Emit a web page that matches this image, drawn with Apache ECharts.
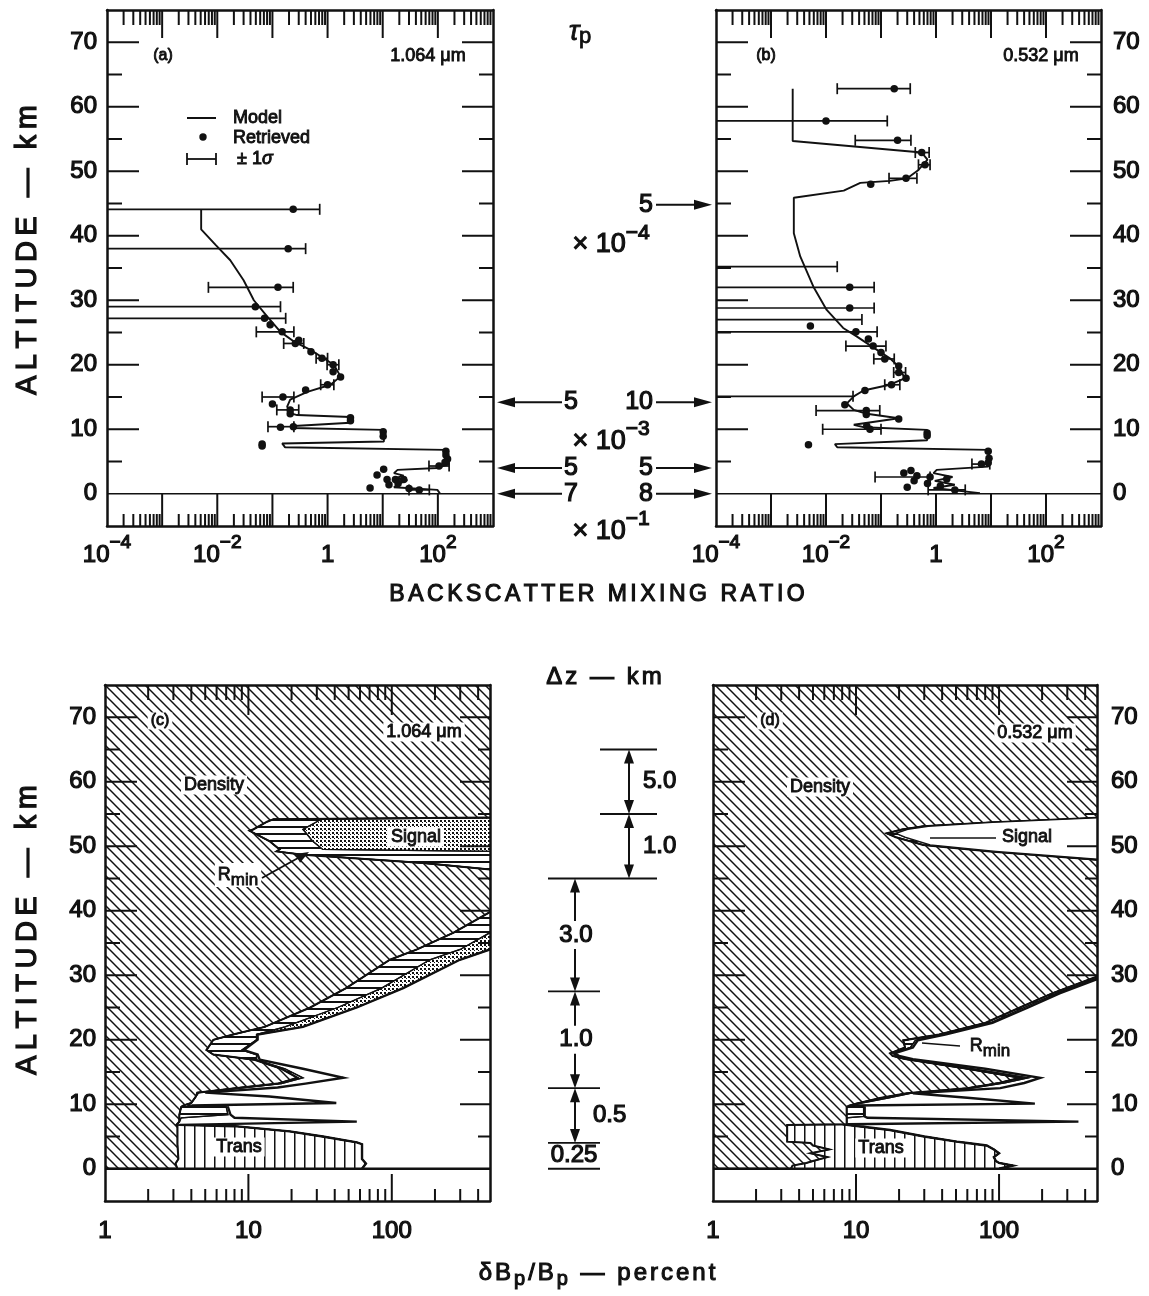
<!DOCTYPE html>
<html>
<head>
<meta charset="utf-8">
<title>Backscatter mixing ratio and error budget</title>
<script src="https://cdn.jsdelivr.net/npm/echarts@6.0.0/dist/echarts.min.js"></script>
<style>
  html, body { margin: 0; padding: 0; background: #fff; }
  #chart { width: 1149px; height: 1296px; }
</style>
</head>
<body>
<div id="chart"></div>
<script>
// ---------- (a) 1.064 um : model profile, retrieved values, +/-1 sigma bars ----------
const modelA = [
  [0.0051, 44.1], [0.0051, 41.0], [0.0095, 38.5], [0.0172, 36.2], [0.030, 33.1],
  [0.046, 30.0], [0.080, 27.5], [0.14, 25.1], [0.245, 23.6], [0.49, 22.3],
  [0.85, 21.0], [1.30, 20.0], [1.72, 18.2], [1.13, 16.9], [0.43, 15.8],
  [0.21, 14.6], [0.185, 13.5], [0.21, 12.5], [0.28, 12.2], [2.6, 11.9],
  [2.6, 11.0], [0.245, 10.5], [0.22, 10.2], [10.5, 9.9], [10.5, 8.1],
  [0.15, 7.8], [0.17, 7.2], [135, 6.8], [150, 6.0], [130, 5.2], [160, 4.6],
  [98, 4.0], [18.6, 3.7], [16, 3.2], [24, 2.8], [17, 2.4], [28, 2.1],
  [19, 1.5], [16, 1.0], [98, 0.6], [110, 0.0]
];
const retrievedA = [
  [0.238, 44.1], [0.193, 38.0], [0.126, 32.0], [0.049, 29.0], [0.072, 27.2], [0.091, 26.2],
  [0.15, 25.1], [0.26, 23.3], [0.30, 23.8], [0.50, 22.0], [0.79, 21.0], [1.26, 20.0],
  [1.26, 18.9], [1.72, 18.1], [1.0, 16.9], [0.40, 16.1], [0.155, 15.0], [0.10, 13.9],
  [0.21, 13.0], [0.21, 12.4], [2.6, 11.8], [2.6, 11.3], [0.14, 10.3], [0.24, 10.4],
  [10.2, 9.6], [10.2, 8.9], [0.065, 7.7], [0.065, 7.4], [140, 6.6], [140, 6.0],
  [150, 5.4], [135, 4.9], [105, 4.3], [10.4, 3.8], [7.9, 2.9], [12, 2.2], [17, 2.2],
  [24, 2.2], [13, 1.4], [19, 1.6], [5.9, 0.9], [46, 0.6], [30, 0.8]
];
// [altitude, low, high]; low = null when the bar runs off the left end of the axis
const errorA = [
  [44.1, null, 0.72], [38.0, null, 0.40], [32.0, 0.0069, 0.238], [29.0, null, 0.14],
  [27.2, null, 0.174], [25.1, 0.051, 0.245], [23.3, 0.16, 0.37], [21.0, 0.62, 1.0],
  [20.0, 0.98, 1.6], [16.9, 0.75, 1.3], [15.0, 0.065, 0.245], [13.0, 0.12, 0.30],
  [10.4, 0.083, 0.245], [4.3, 69, 160], [0.6, 30, 70]
];

// ---------- (b) 0.532 um ----------
const modelB = [
  [0.00248, 62.8], [0.00248, 54.7], [0.55, 52.9], [0.70, 51.8], [0.48, 50.2], [0.30, 48.9],
  [0.145, 48.5], [0.042, 48.2], [0.021, 47.0], [0.0026, 45.9], [0.0026, 40.4], [0.0034, 36.8],
  [0.0059, 32.1], [0.0103, 28.5], [0.0205, 25.7], [0.036, 24.4], [0.072, 22.7], [0.145, 21.0],
  [0.21, 19.7], [0.27, 17.9], [0.145, 16.9], [0.048, 16.0], [0.032, 15.1], [0.024, 14.0],
  [0.032, 13.0], [0.055, 12.4], [0.21, 11.7], [0.032, 10.7], [0.05, 10.3], [0.69, 9.9],
  [0.69, 8.3], [0.0145, 7.7], [0.016, 7.2], [8.9, 6.8], [9.5, 5.5], [8.9, 4.2], [1.03, 3.7],
  [0.9, 3.2], [2.0, 2.6], [0.95, 2.0], [2.2, 1.4], [0.9, 0.9], [6.3, 0.1]
];
const retrievedB = [
  [0.174, 62.8], [0.010, 57.8], [0.20, 54.8], [0.55, 52.9], [0.63, 51.0], [0.285, 48.9],
  [0.065, 48.0], [0.027, 32.0], [0.027, 28.8], [0.0052, 26.0], [0.035, 25.1], [0.059, 24.0],
  [0.072, 22.9], [0.10, 21.9], [0.117, 20.9], [0.21, 19.8], [0.21, 18.8], [0.285, 17.9],
  [0.155, 16.9], [0.051, 16.0], [0.022, 13.8], [0.054, 12.9], [0.054, 12.3], [0.21, 11.6],
  [0.063, 10.0], [0.055, 10.5], [0.69, 9.4], [0.69, 9.0], [0.0048, 7.6], [8.9, 6.6],
  [9.2, 5.5], [8.9, 4.8], [6.7, 4.6], [0.26, 3.2], [0.35, 3.6], [0.45, 2.8], [0.40, 2.0],
  [0.30, 1.0], [0.78, 2.6], [0.70, 1.6], [1.57, 2.3], [2.2, 0.6], [1.2, 1.2]
];
const errorB = [
  [62.8, 0.016, 0.34], [57.8, null, 0.13], [54.8, 0.034, 0.35], [52.9, 0.42, 0.75],
  [51.0, 0.48, 0.78], [48.9, 0.14, 0.45], [35.2, null, 0.016], [32.0, null, 0.075],
  [28.8, null, 0.075], [27.0, null, 0.045], [25.1, null, 0.085], [22.9, 0.023, 0.123],
  [20.9, 0.074, 0.174], [18.8, 0.17, 0.28], [16.9, 0.117, 0.22], [15.1, null, 0.031],
  [12.9, 0.0066, 0.095], [10.0, 0.0087, 0.1], [4.6, 4.5, 9.5], [2.6, 0.078, 0.78], [0.6, 0.72, 3.4]
];

// ---------- (c) error budget 1.064 um: cumulative boundaries (percent) by altitude ----------
const altC = [0, 0.8, 1.5, 3.8, 4.1, 5.0, 5.8, 6.6, 6.8, 7.3, 7.9, 8.4, 9.6, 9.8, 10.2, 11.2, 11.8,
  12.6, 13.2, 14.1, 15.5, 16.9, 17.7, 18.4, 20.0, 20.8, 22, 25, 28, 32.4, 34, 36.6, 39.8, 40.5,
  46.2, 46.4, 47.4, 48.7, 49.2, 49.5, 50.8, 52.4, 52.6, 53.8, 54.2, 54.6, 75];
const densC = [3.2, 3.1, 3.25, 3.2, 3.2, 3.2, 3.2, 3.2, 3.15, 3.3, 3.3, 3.3, 3.4, 3.5, 4.0, 4.3, 4.4,
  9, 16, 22, 17, 11, 5.7, 5.1, 5.7, 7.8, 13, 27, 48, 97, 150, 270, 484, 5000,
  5000, 484, 165, 24, 15.7, 16.5, 14, 10.2, 10.8, 13.5, 15, 5000, 5000];
const transC = [62, 66, 62, 62, 57, 33, 19.4, 8, 3.15, 3.3, 3.3, 3.3, 3.4, 3.5, 4.0, 4.3, 4.4,
  9, 16, 22, 17, 11, 5.7, 5.1, 5.7, 7.8, 13, 27, 48, 97, 150, 270, 484, 5000,
  5000, 484, 165, 24, 15.7, 16.5, 14, 10.2, 10.8, 13.5, 15, 5000, 5000];
const rminC = [62, 66, 62, 62, 57, 33, 19.4, 8, 3.15, 3.3, 3.4, 7.2, 7.0, 3.8, 4.0, 4.3, 4.5,
  9.5, 17, 24, 18, 11.4, 11.4, 9, 11.4, 11.4, 18, 42, 85, 184, 300, 484, 900, 5000,
  5000, 5000, 5000, 5000, 484, 33, 28, 24.5, 24, 30, 32, 5000, 5000];
const signalC = [62, 66, 62, 62, 57, 33, 19.4, 8, 3.15, 3.3, 3.4, 7.2, 7.0, 3.8, 4.0, 4.3, 4.5,
  9.5, 17, 24, 18, 11.4, 11.4, 9, 11.4, 11.6, 24, 57, 120, 298, 484, 900, 2000, 5000,
  5000, 5000, 5000, 5000, 5000, 5000, 5000, 5000, 5000, 5000, 5000, 5000, 5000];
const totalC = [62, 66, 62, 62, 57, 33, 19.4, 8, 3.3, 57, 8, 7.5, 7.2, 4.0, 41, 14, 5.0,
  16, 25, 46, 24, 12, 11.6, 9.3, 11.6, 11.6, 24, 57, 120, 298, 484, 900, 2000, 5000,
  5000, 5000, 5000, 5000, 5000, 5000, 5000, 5000, 5000, 5000, 5000, 5000, 5000];

// ---------- (d) error budget 0.532 um ----------
const altD = [0, 0.5, 0.9, 1.2, 1.8, 2.4, 3.0, 3.6, 4.0, 4.2, 5.0, 6.0, 6.7, 6.8, 6.9, 7.3, 7.9,
  8.1, 9.6, 9.8, 10.1, 11.0, 11.7, 12.5, 13.3, 14.1, 15.5, 17.0, 17.5, 17.9, 18.8, 19.9, 20.8,
  22.6, 25, 27.2, 29.8, 30.5, 47.7, 47.9, 49.2, 50.2, 51.4, 52.0, 52.6, 53.1, 53.7, 54.4, 54.6, 75];
const densD = [3.5, 3.6, 4.5, 5, 6.3, 4.8, 6.5, 5, 4.8, 3.3, 3.3, 3.3, 3.3, 3.3, 8.6, 8.6, 8.6,
  8.6, 8.6, 9, 10, 15, 22.6, 60, 100, 140, 60, 22, 18, 17.3, 22, 21.4, 38,
  80, 140, 235, 484, 5000, 5000, 484, 86.5, 29.5, 19, 16.4, 21, 29.6, 86.5, 484, 5000, 5000];
const transD = [100, 125, 100, 95, 92, 100, 92, 82, 60, 50.6, 30, 17.3, 9.5, 8.6, 8.6, 8.6, 8.6,
  8.6, 8.6, 9, 10, 15, 22.6, 60, 100, 140, 60, 22, 18, 17.3, 22, 21.4, 38,
  80, 140, 235, 484, 5000, 5000, 484, 86.5, 29.5, 19, 16.4, 21, 29.6, 86.5, 484, 5000, 5000];
const rminD = [100, 125, 100, 95, 92, 100, 92, 82, 60, 50.6, 30, 17.3, 9.5, 8.6, 8.6, 8.6, 8.6,
  11.3, 11.3, 9.5, 10.5, 17, 24, 65, 110, 160, 66, 23, 19, 18.2, 24, 26, 40.8,
  86.5, 150, 252, 520, 5000, 5000, 560, 95, 33, 22, 19, 23, 32, 90, 500, 5000, 5000];
const signalD = [100, 125, 100, 95, 92, 100, 92, 82, 60, 50.6, 30, 17.3, 9.5, 8.6, 8.6, 8.6, 8.6,
  11.3, 11.3, 9.5, 10.5, 17, 24, 65, 110, 160, 66, 23, 19, 18.2, 24, 26, 40.8,
  86.5, 150, 252, 520, 5000, 5000, 5000, 5000, 5000, 5000, 5000, 5000, 5000, 5000, 5000, 5000, 5000];
const totalD = [100, 125, 100, 95, 92, 100, 92, 82, 60, 50.6, 30, 17.3, 9.5, 8.6, 8.8, 359, 12,
  11.5, 11.5, 9.8, 178, 60, 25, 102, 150, 194, 80, 25, 20, 18.5, 25, 27, 42,
  90, 160, 265, 540, 5000, 5000, 5000, 5000, 5000, 5000, 5000, 5000, 5000, 5000, 5000, 5000, 5000];

// ---------- optical depth tau_p marks and vertical resolution dz ----------
const tauLeft = [[14.2, '5'], [4.0, '5'], [0, '7']];
const tauRight = [[44.8, '5'], [14.2, '10'], [4.0, '5'], [0, '8']];
const tauScale = [[39.3, '−4'], [8.8, '−3'], [-5.1, '−1']];
const dzBounds = [65, 55, 45, 27.5, 12.5, 4, 0];
const dzSteps = ['5.0', '1.0', '3.0', '1.0', '0.5', '0.25'];

// ---------- styling ----------
const FONT = "'Liberation Sans', Arial, Helvetica, sans-serif";
const INK = '#111';

function tile(w, h, draw) {
  const c = document.createElement('canvas');
  c.width = w; c.height = h;
  const g = c.getContext('2d');
  g.fillStyle = INK; g.strokeStyle = INK;
  draw(g, w, h);
  return { image: c, repeat: 'repeat' };
}
const hatchDiag = tile(10, 10, (g, s) => {
  g.lineWidth = 1.5;
  for (let k = -1; k <= 1; k++) {
    g.beginPath(); g.moveTo(-s, -s + k * s); g.lineTo(2 * s, 2 * s + k * s); g.stroke();
  }
});
const hatchVert = tile(10, 4, g => g.fillRect(4, 0, 1.5, 4));
const hatchHoriz = tile(4, 7, g => g.fillRect(0, 0, 4, 2));
const stipple = tile(4, 4, g => { g.fillRect(0, 0, 2, 2); g.fillRect(2, 2, 1, 1); });

const numBase = { fontSize: 24, fontFamily: FONT, fill: INK, stroke: INK, lineWidth: 1.2 };
const supRich = {
  b: Object.assign({}, numBase, { lineHeight: 34, verticalAlign: 'bottom' }),
  s: Object.assign({}, numBase, { fontSize: 19, lineHeight: 22, verticalAlign: 'top' })
};

const tickTop = { lMaj: 32, lMin: 15, rMaj: 31, rMin: 14, tMaj: 28, tMin: 15, bMaj: null, bMin: 12 };
const tickBot = { lMaj: 32, lMin: 15, rMaj: 30, rMin: 12, tMaj: 30, tMin: 15, bMaj: 27, bMin: 12 };
const powLabel = v => {
  const e = Math.round(Math.log10(v));
  return e === 0 ? '{b|1}' : '{b|10}{s|' + (e < 0 ? '−' : '') + Math.abs(e) + '}';
};
const plainLabel = v => '{b|' + Math.round(v) + '}';

const panels = [
  { grid: { left: 107, top: 10, width: 386, height: 516 }, xMin: 1e-4, xMax: 1e3, side: 'left', gap: 10,
    tick: tickTop, zeroWidth: 1.5, xLabels: [1e-4, 1e-2, 1, 1e2], fmt: powLabel, labelDy: 24 },
  { grid: { left: 716, top: 10, width: 385, height: 516 }, xMin: 1e-4, xMax: 1e3, side: 'right', gap: 12,
    tick: tickTop, zeroWidth: 1.5, xLabels: [1e-4, 1e-2, 1, 1e2], fmt: powLabel, labelDy: 24 },
  { grid: { left: 105, top: 685, width: 385, height: 516 }, xMin: 1, xMax: 484, side: 'left', gap: 9,
    tick: tickBot, zeroWidth: 2.5, xLabels: [1, 10, 100], fmt: plainLabel, labelDy: 25 },
  { grid: { left: 713, top: 685, width: 384, height: 516 }, xMin: 1, xMax: 484, side: 'right', gap: 14,
    tick: tickBot, zeroWidth: 2.5, xLabels: [1, 10, 100], fmt: plainLabel, labelDy: 25 }
];

// ticks, zero-altitude line and tick labels, generated from each panel's axis ranges
function buildDeco(p) {
  const t = p.tick, items = [];
  const eLo = Math.floor(Math.log10(p.xMin)), eHi = Math.ceil(Math.log10(p.xMax));
  for (let e = eLo; e < eHi; e++) {
    for (let m = 1; m <= 9; m++) {
      const v = m * Math.pow(10, e);
      if (v <= p.xMin * 1.001 || v >= p.xMax * 0.999) continue;
      items.push({ x: v, y: -5, k: 'B', len: m === 1 ? t.bMaj : t.bMin });
      items.push({ x: v, y: 75, k: 'T', len: m === 1 ? t.tMaj : t.tMin });
    }
  }
  for (let z = 5; z <= 70; z += 5) {
    const maj = z % 10 === 0;
    items.push({ x: p.xMin, y: z, k: 'L', len: maj ? t.lMaj : t.lMin });
    items.push({ x: p.xMax, y: z, k: 'R', len: maj ? t.rMaj : t.rMin });
  }
  items.push({ x: p.xMin, y: 0, k: 'Z' });
  for (let z = 0; z <= 70; z += 10) {
    items.push({ x: p.side === 'left' ? p.xMin : p.xMax, y: z, k: p.side === 'left' ? 'YL' : 'YR', text: String(z) });
  }
  p.xLabels.forEach(v => items.push({ x: v, y: -5, k: 'XB', text: p.fmt(v) }));
  return items;
}

function decoRender(items, p) {
  return function (params, api) {
    const it = items[params.dataIndex];
    const c = api.coord([it.x, it.y]);
    const st = { stroke: INK, lineWidth: 2 };
    const seg = (x1, y1, x2, y2, s) => ({ type: 'line', shape: { x1, y1, x2, y2 }, style: s || st });
    const num = align => Object.assign({ text: it.text, align, verticalAlign: 'middle' }, numBase);
    switch (it.k) {
      case 'L': return seg(c[0], c[1], c[0] + it.len, c[1]);
      case 'R': return seg(c[0], c[1], c[0] - it.len, c[1]);
      case 'T': return seg(c[0], c[1], c[0], c[1] + it.len);
      case 'B': {
        const end = it.len == null ? api.coord([it.x, 0])[1] : c[1] - it.len;
        return seg(c[0], c[1], c[0], end);
      }
      case 'Z': {
        const e = api.coord([p.xMax, 0]);
        return seg(c[0], c[1], e[0], e[1], { stroke: INK, lineWidth: p.zeroWidth });
      }
      case 'YL': return { type: 'text', x: c[0] - p.gap, y: c[1], style: num('right') };
      case 'YR': return { type: 'text', x: c[0] + p.gap, y: c[1], style: num('left') };
      case 'XB': return { type: 'text', x: c[0], y: c[1] + p.labelDy,
        style: { text: it.text, rich: supRich, align: 'center', verticalAlign: 'middle' } };
    }
    return null;
  };
}

function errRender(bars, xMin) {
  return function (params, api) {
    const b = bars[params.dataIndex];
    const open = b[1] == null;
    const p1 = api.coord([open ? xMin : b[1], b[0]]);
    const p2 = api.coord([b[2], b[0]]);
    const st = { stroke: INK, lineWidth: 1.7 };
    const kids = [
      { type: 'line', shape: { x1: p1[0], y1: p1[1], x2: p2[0], y2: p2[1] }, style: st },
      { type: 'line', shape: { x1: p2[0], y1: p2[1] - 5.5, x2: p2[0], y2: p2[1] + 5.5 }, style: st }
    ];
    if (!open) kids.push({ type: 'line', shape: { x1: p1[0], y1: p1[1] - 5.5, x2: p1[0], y2: p1[1] + 5.5 }, style: st });
    return { type: 'group', children: kids };
  };
}

// stacked error-source regions: density | transmission | R_min | signal, then the total outline
function regionRender(alt, cols, fills, xMin) {
  return function (params, api) {
    const k = params.dataIndex;
    if (k < 4) {
      const lo = k === 0 ? null : cols[k - 1], hi = cols[k];
      const pts = [];
      for (let i = 0; i < alt.length; i++) pts.push(api.coord([lo ? lo[i] : xMin, alt[i]]));
      for (let i = alt.length - 1; i >= 0; i--) pts.push(api.coord([hi[i], alt[i]]));
      return { type: 'polygon', shape: { points: pts },
        style: { fill: fills[k], stroke: INK, lineWidth: k === 0 ? 2 : 1.3 } };
    }
    const pts = alt.map((z, i) => api.coord([cols[4][i], z]));
    return { type: 'polyline', shape: { points: pts }, style: { fill: null, stroke: INK, lineWidth: 2.4 } };
  };
}

const frameLine = { show: true, onZero: false, lineStyle: { color: INK, width: 2.5 } };
const option = { animation: false, backgroundColor: '#fff', grid: [], xAxis: [], yAxis: [], series: [] };

panels.forEach((p, g) => {
  option.grid.push(Object.assign({ show: false, containLabel: false, outerBoundsMode: 'none' }, p.grid));
  const ax = { gridIndex: g, type: 'log', logBase: 10, min: p.xMin, max: p.xMax, axisLine: frameLine,
    axisTick: { show: false }, axisLabel: { show: false }, splitLine: { show: false }, z: 10, silent: true };
  option.xAxis.push(Object.assign({ position: 'bottom' }, ax), Object.assign({ position: 'top' }, ax));
  const ay = { gridIndex: g, type: 'value', min: -5, max: 75, axisLine: frameLine,
    axisTick: { show: false }, axisLabel: { show: false }, splitLine: { show: false }, z: 10, silent: true };
  option.yAxis.push(Object.assign({ position: 'left' }, ay), Object.assign({ position: 'right' }, ay));
  const items = buildDeco(p);
  option.series.push({ type: 'custom', xAxisIndex: 2 * g, yAxisIndex: 2 * g, silent: true, clip: false, z: 6,
    data: items.map(it => [it.x, it.y]), renderItem: decoRender(items, p) });
});

[[modelA, retrievedA, errorA, 0], [modelB, retrievedB, errorB, 1]].forEach(([model, pts, bars, g]) => {
  const idx = 2 * g;
  option.series.push(
    { type: 'line', xAxisIndex: idx, yAxisIndex: idx, data: model, symbol: 'none', showSymbol: false,
      lineStyle: { color: INK, width: 1.9 }, clip: true, silent: true, z: 3 },
    { type: 'custom', xAxisIndex: idx, yAxisIndex: idx, data: bars.map(b => [b[2], b[0]]),
      renderItem: errRender(bars, panels[g].xMin), clip: true, silent: true, z: 3 },
    { type: 'scatter', xAxisIndex: idx, yAxisIndex: idx, data: pts, symbolSize: 7.5,
      itemStyle: { color: INK, opacity: 1 }, silent: true, z: 4 }
  );
});

[[altC, [densC, transC, rminC, signalC, totalC], stipple, 2],
 [altD, [densD, transD, rminD, signalD, totalD], '#fff', 3]].forEach(([alt, cols, sigFill, g]) => {
  option.series.push({ type: 'custom', xAxisIndex: 2 * g, yAxisIndex: 2 * g, silent: true, clip: true, z: 1,
    data: [0, 1, 2, 3, 4].map(() => [panels[g].xMin, 0]),
    renderItem: regionRender(alt, cols, [hatchDiag, hatchVert, hatchHoriz, sigFill], panels[g].xMin) });
});

const chart = echarts.init(document.getElementById('chart'), null, { renderer: 'canvas' });
chart.setOption(option);

// ---------- annotations ----------
const heavy = { stroke: INK, lineWidth: 0.9 };
const mctx = document.createElement('canvas').getContext('2d');
function textWidth(t, size, italic) {
  mctx.font = (italic ? 'italic ' : '') + size + 'px ' + FONT;
  return mctx.measureText(t).width;
}
function T(x, y, text, size, extra) {
  return { type: 'text', x, y, z: 100, silent: true,
    style: Object.assign({ text, fill: INK, fontSize: size, fontFamily: FONT, align: 'center', verticalAlign: 'middle' }, extra || {}) };
}
// a run of text pieces laid out by measured width: letter spacing, sub/superscript offsets, rotation
function run(list, cx, cy, opts) {
  const gap = opts.gap || 0;
  const units = [];
  list.forEach(pc => {
    const parts = gap ? Array.from(pc.t) : [pc.t];
    parts.forEach(ch => units.push(Object.assign({}, pc, { t: ch, w: textWidth(ch, pc.size, pc.italic) })));
  });
  const total = units.reduce((s, u) => s + u.w, 0) + gap * (units.length - 1);
  let off = opts.align === 'left' ? 0 : -total / 2;
  const out = [];
  if (opts.box) {
    out.push({ type: 'rect', z: 99, silent: true,
      shape: { x: cx + off - 3, y: cy - opts.box / 2, width: total + 6, height: opts.box }, style: { fill: '#fff' } });
  }
  units.forEach(u => {
    const dy = u.dy || 0;
    const x = opts.rotate ? cx + dy : cx + off;
    const y = opts.rotate ? cy - off : cy + dy;
    out.push({ type: 'text', x, y, rotation: opts.rotate ? Math.PI / 2 : 0, z: 100, silent: true,
      style: { text: u.t, fontSize: u.size, fontFamily: FONT, fontStyle: u.italic ? 'italic' : 'normal',
        fill: INK, stroke: INK, lineWidth: opts.stroke == null ? 1.1 : opts.stroke, align: 'left', verticalAlign: 'middle' } });
    off += u.w + gap;
  });
  return out;
}
function Ln(x1, y1, x2, y2, w) {
  return { type: 'line', z: 100, silent: true, shape: { x1, y1, x2, y2 }, style: { stroke: INK, lineWidth: w || 2 } };
}
function head(x, y, dx, dy, len, hw) {
  const n = Math.hypot(dx, dy), ux = dx / n, uy = dy / n;
  const bx = x - ux * len, by = y - uy * len;
  return { type: 'polygon', z: 100, silent: true,
    shape: { points: [[x, y], [bx - uy * hw, by + ux * hw], [bx + uy * hw, by - ux * hw]] }, style: { fill: INK } };
}
function arrow(x1, y1, x2, y2, len, hw, w) {
  const n = Math.hypot(x2 - x1, y2 - y1);
  const ex = x2 - (x2 - x1) / n * len * 0.8, ey = y2 - (y2 - y1) / n * len * 0.8;
  return [Ln(x1, y1, ex, ey, w), head(x2, y2, x2 - x1, y2 - y1, len, hw)];
}
const whiteBox = { backgroundColor: '#fff', padding: [1, 3, 0, 3] };

const gfx = [];
// axis titles
gfx.push(...run([{ t: 'BACKSCATTER MIXING RATIO', size: 23 }], 597, 595, { gap: 3.5 }));
gfx.push(...run([{ t: 'ALTITUDE — km', size: 29 }], 28, 250, { gap: 5.5, rotate: true, stroke: 1.2 }));
gfx.push(...run([{ t: 'ALTITUDE — km', size: 29 }], 28, 930, { gap: 5.5, rotate: true, stroke: 1.2 }));
gfx.push(...run([{ t: 'Δz — km', size: 24 }], 604, 677, { gap: 3 }));
gfx.push(...run([{ t: 'δB', size: 24 }, { t: 'p', size: 20, dy: 6 }, { t: '/B', size: 24 }, { t: 'p', size: 20, dy: 6 },
  { t: ' — percent', size: 24 }], 597, 1273, { gap: 3 }));
gfx.push(...run([{ t: 'τ', size: 28, italic: true }, { t: 'p', size: 22, dy: 5 }], 580, 32, { stroke: 0.8 }));

// panel captions
gfx.push(T(163, 56, '(a)', 16, heavy), T(428, 56, '1.064 μm', 18, heavy));
gfx.push(T(766, 56, '(b)', 16, heavy), T(1041, 56, '0.532 μm', 18, heavy));
gfx.push(T(160, 721, '(c)', 16, Object.assign({}, heavy, whiteBox)), T(424, 732, '1.064 μm', 18, Object.assign({}, heavy, whiteBox)));
gfx.push(T(770, 721, '(d)', 16, Object.assign({}, heavy, whiteBox)), T(1035, 733, '0.532 μm', 18, Object.assign({}, heavy, whiteBox)));

// legend of panel (a)
gfx.push(Ln(187, 118, 216, 118, 2));
gfx.push(T(233, 118, 'Model', 18, Object.assign({ align: 'left' }, heavy)));
gfx.push({ type: 'circle', z: 100, silent: true, shape: { cx: 203, cy: 137, r: 3.7 }, style: { fill: INK } });
gfx.push(T(233, 138, 'Retrieved', 18, Object.assign({ align: 'left' }, heavy)));
gfx.push(Ln(187, 159, 216, 159, 1.8), Ln(187, 153, 187, 165, 1.8), Ln(216, 153, 216, 165, 1.8));
gfx.push(...run([{ t: '± 1', size: 18 }, { t: 'σ', size: 18, italic: true }], 237, 159, { align: 'left', stroke: 0.9 }));

// region labels, bottom panels
gfx.push(T(214, 785, 'Density', 18, Object.assign({}, heavy, whiteBox)));
gfx.push(T(416, 837, 'Signal', 18, Object.assign({}, heavy, whiteBox)));
gfx.push(...run([{ t: 'R', size: 18 }, { t: 'min', size: 17, dy: 5 }], 238, 875, { stroke: 0.8, box: 24 }));
gfx.push(...arrow(262, 878, 309, 852, 13, 5, 1.8));
gfx.push(T(239, 1147, 'Trans', 18, Object.assign({}, heavy, whiteBox)));
gfx.push(T(820, 787, 'Density', 18, Object.assign({}, heavy, whiteBox)));
gfx.push(Ln(930, 838, 996, 838, 1.6));
gfx.push(T(1027, 837, 'Signal', 18, Object.assign({}, heavy, whiteBox)));
gfx.push(Ln(922, 1043, 960, 1046, 1.6));
gfx.push(...run([{ t: 'R', size: 18 }, { t: 'min', size: 17, dy: 5 }], 990, 1046, { stroke: 0.8 }));
gfx.push(T(881, 1148, 'Trans', 18, Object.assign({}, heavy, whiteBox)));

// tau_p marks between the top panels
const yTop = z => chart.convertToPixel({ xAxisIndex: 0, yAxisIndex: 0 }, [1, z])[1];
const yBot = z => chart.convertToPixel({ xAxisIndex: 4, yAxisIndex: 4 }, [1, z])[1];
const bigNum = { stroke: INK, lineWidth: 1.2 };
tauLeft.forEach(([z, t]) => {
  const y = yTop(z);
  gfx.push(...arrow(562, y, 497, y, 18, 5, 2));
  gfx.push(T(564, y, t, 25, Object.assign({ align: 'left' }, bigNum)));
});
tauRight.forEach(([z, t]) => {
  const y = yTop(z);
  gfx.push(T(653, y, t, 25, Object.assign({ align: 'right' }, bigNum)));
  gfx.push(...arrow(656, y, 712, y, 18, 5, 2));
});
const tauRich = {
  b: Object.assign({}, numBase, { fontSize: 27, lineHeight: 36, verticalAlign: 'bottom' }),
  s: Object.assign({}, numBase, { fontSize: 21, lineHeight: 24, verticalAlign: 'top' })
};
tauScale.forEach(([z, e]) => gfx.push(T(611, yTop(z), '{b|× 10}{s|' + e + '}', 27, { rich: tauRich })));

// dz resolution ladder between the bottom panels
dzBounds.forEach(z => {
  const y = yBot(z);
  if (z > 45) gfx.push(Ln(600, y, 657, y, 1.8));
  else if (z === 45) gfx.push(Ln(548, y, 657, y, 1.8));
  else gfx.push(Ln(548, y, 600, y, 1.8));
});
for (let i = 0; i < dzBounds.length - 1; i++) {
  const zHi = dzBounds[i], zLo = dzBounds[i + 1];
  const y1 = yBot(zHi), y2 = yBot(zLo), ym = (y1 + y2) / 2;
  const label = dzSteps[i];
  if (i === dzBounds.length - 2) { gfx.push(T(574, ym, label, 24, bigNum)); break; }
  const x = zHi > 45 ? 629 : 575;
  gfx.push(Ln(x, y1 + 10, x, y2 - 10, 2), head(x, y1, 0, -1, 14, 5), head(x, y2, 0, 1, 14, 5));
  if (zHi > 45) gfx.push(T(643, ym, label, 24, Object.assign({ align: 'left' }, bigNum)));
  else if (zHi - zLo > 10) gfx.push(T(576, ym, label, 24, Object.assign({ backgroundColor: '#fff', padding: [2, 2] }, bigNum)));
  else gfx.push(T(593, ym, label, 24, Object.assign({ align: 'left' }, bigNum)));
}

chart.setOption({ graphic: gfx });
</script>
</body>
</html>
